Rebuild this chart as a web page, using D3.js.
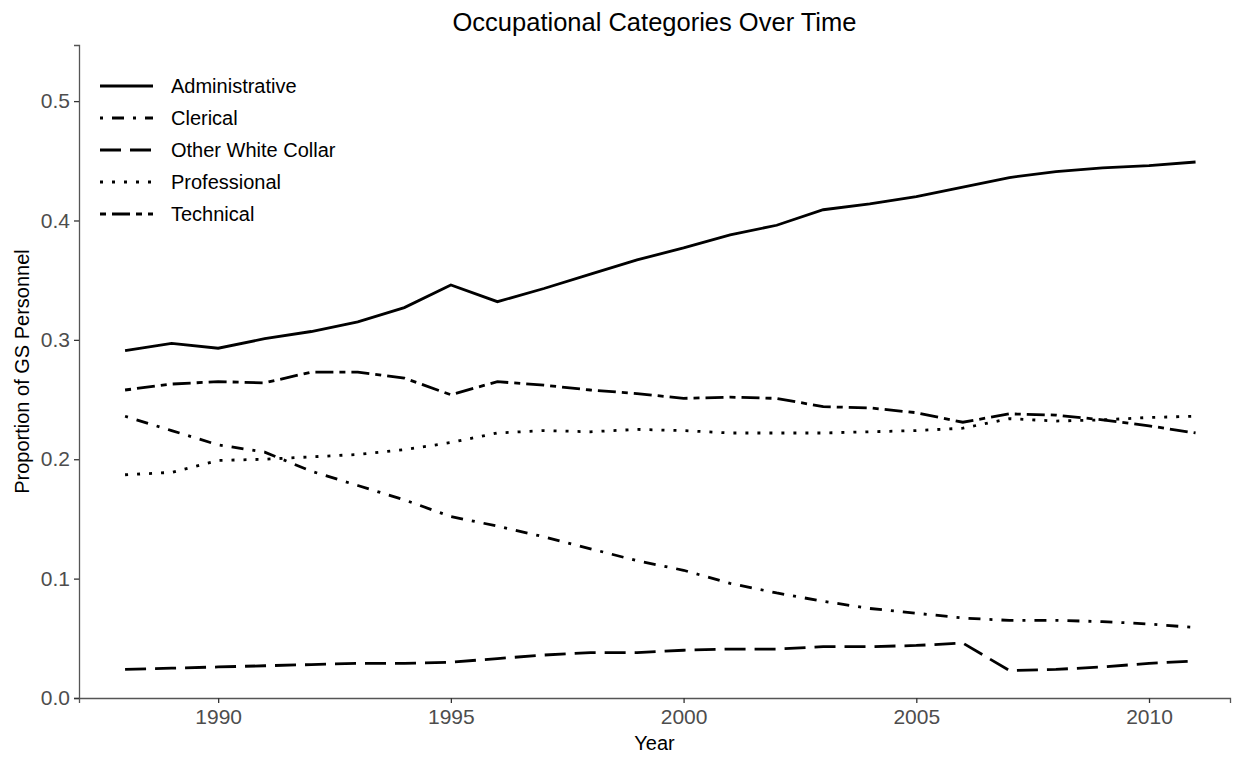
<!DOCTYPE html>
<html>
<head>
<meta charset="utf-8">
<script src="https://cdn.jsdelivr.net/npm/d3@7"></script>
<style>
  body { margin: 0; background: #fff; }
  svg text { font-family: "Liberation Sans", Arial, Helvetica, sans-serif; }
</style>
</head>
<body>
<div id="chart"></div>
<script>
// datos
var years = d3.range(1988, 2012);
var administrative = [0.291, 0.297, 0.293, 0.301, 0.307, 0.315, 0.327, 0.346, 0.332, 0.343, 0.355, 0.367, 0.377, 0.388, 0.396, 0.409, 0.414, 0.420, 0.428, 0.436, 0.441, 0.444, 0.446, 0.449];
var clerical = [0.236, 0.224, 0.212, 0.206, 0.190, 0.178, 0.166, 0.152, 0.144, 0.135, 0.125, 0.115, 0.107, 0.096, 0.088, 0.081, 0.075, 0.071, 0.067, 0.065, 0.065, 0.064, 0.062, 0.059];
var otherWhiteCollar = [0.024, 0.025, 0.026, 0.027, 0.028, 0.029, 0.029, 0.030, 0.033, 0.036, 0.038, 0.038, 0.040, 0.041, 0.041, 0.043, 0.043, 0.044, 0.046, 0.023, 0.024, 0.026, 0.029, 0.031];
var professional = [0.187, 0.189, 0.199, 0.200, 0.202, 0.204, 0.208, 0.214, 0.222, 0.224, 0.223, 0.225, 0.224, 0.222, 0.222, 0.222, 0.223, 0.224, 0.226, 0.234, 0.232, 0.233, 0.235, 0.236];
var technical = [0.258, 0.263, 0.265, 0.264, 0.273, 0.273, 0.268, 0.254, 0.265, 0.262, 0.258, 0.255, 0.251, 0.252, 0.251, 0.244, 0.243, 0.239, 0.231, 0.238, 0.237, 0.233, 0.228, 0.222];
var seriesNames = ["Administrative", "Clerical", "Other White Collar", "Professional", "Technical"];
var seriesValues = [administrative, clerical, otherWhiteCollar, professional, technical];
var yTicks = [0.0, 0.1, 0.2, 0.3, 0.4, 0.5];
var xTicks = [1990, 1995, 2000, 2005, 2010];

// tipos de linea estilo ggplot (x3)
var dashes = {
  "Administrative": null,
  "Clerical": "3,9,12,9",
  "Other White Collar": "21,9",
  "Professional": "3,9",
  "Technical": "6,6,18,6"
};

var W = 1241, H = 757;
var mLeft = 79, mRight = 1230, mTop = 45, mBottom = 698;

var svg = d3.select("#chart").append("svg")
    .attr("width", W)
    .attr("height", H);

var x = d3.scaleLinear().domain([1987.01, 2011.74]).range([mLeft, mRight]);
var y = d3.scaleLinear().domain([0, 0.547]).range([mBottom, mTop]);

// Titulo
svg.append("text")
    .attr("x", (mLeft + mRight) / 2)
    .attr("y", 31)
    .attr("text-anchor", "middle")
    .style("font-size", "25.5px")
    .style("fill", "#000")
    .text("Occupational Categories Over Time");

// Ejes
var gx = svg.append("g")
    .attr("transform", "translate(0," + mBottom + ")")
    .call(d3.axisBottom(x).tickValues(xTicks).tickFormat(d3.format("d")).tickSizeOuter(0).tickSize(5).tickPadding(6));
var gy = svg.append("g")
    .attr("transform", "translate(" + mLeft + ",0)")
    .call(d3.axisLeft(y).tickValues(yTicks).tickFormat(d3.format(".1f")).tickSizeOuter(0).tickSize(5).tickPadding(4));

[gx, gy].forEach(function(g){
    g.select(".domain").attr("stroke", "#555").attr("stroke-width", 1.3);
    g.selectAll(".tick line").attr("stroke", "#333").attr("stroke-width", 1.3);
    g.selectAll(".tick text").style("font-size", "21px").style("fill", "#4d4d4d")
        .style("font-family", "'Liberation Sans', Arial, sans-serif");
});

// Titulos de ejes
svg.append("text")
    .attr("x", (mLeft + mRight) / 2)
    .attr("y", 750)
    .attr("text-anchor", "middle")
    .style("font-size", "20px")
    .text("Year");
svg.append("text")
    .attr("transform", "translate(29," + ((mTop + mBottom) / 2) + ") rotate(-90)")
    .attr("text-anchor", "middle")
    .style("font-size", "20px")
    .text("Proportion of GS Personnel");

// Lineas
var line = d3.line()
    .x(function(d, i) { return x(years[i]); })
    .y(function(d) { return y(d); });

seriesNames.forEach(function(name, k){
    svg.append("path")
        .datum(seriesValues[k])
        .attr("fill", "none")
        .attr("stroke", "#000")
        .attr("stroke-width", 2.8)
        .attr("stroke-dasharray", dashes[name])
        .attr("d", line);
});

// Leyenda
var legend = svg.append("g");
seriesNames.forEach(function(name, k){
    var ly = 86 + k * 32;
    legend.append("line")
        .attr("x1", 100).attr("x2", 153)
        .attr("y1", ly).attr("y2", ly)
        .attr("stroke", "#000")
        .attr("stroke-width", 2.8)
        .attr("stroke-dasharray", dashes[name]);
    legend.append("text")
        .attr("x", 171)
        .attr("y", ly)
        .attr("dy", "0.35em")
        .style("font-size", "20px")
        .text(name);
});
</script>
</body>
</html>
